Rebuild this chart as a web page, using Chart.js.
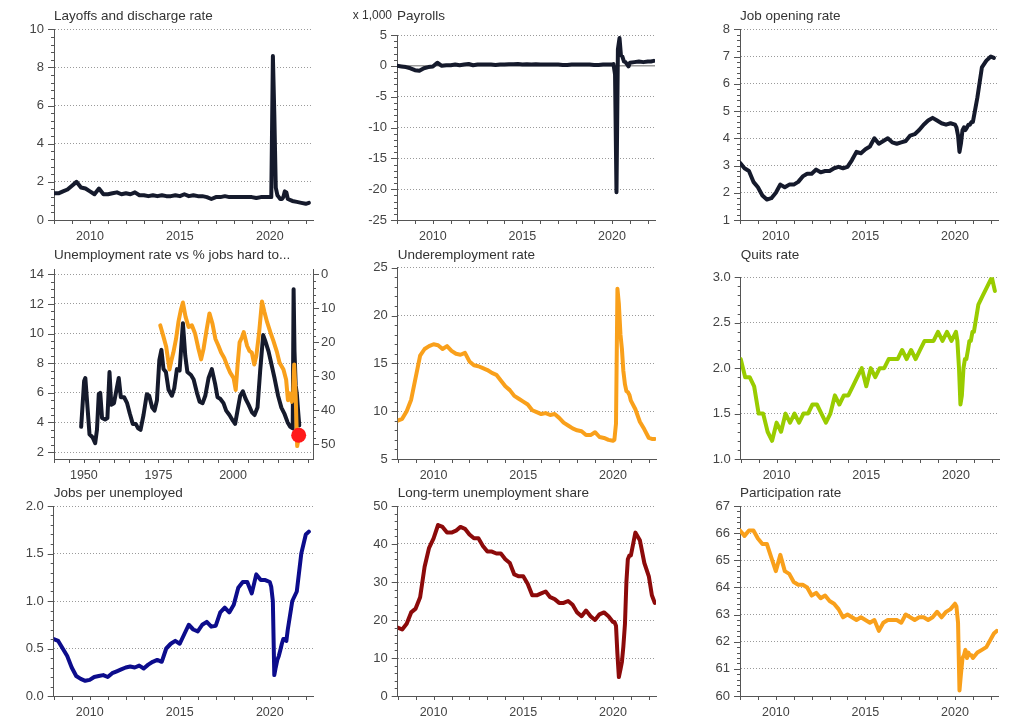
<!DOCTYPE html>
<html>
<head>
<meta charset="utf-8">
<script src="https://cdn.jsdelivr.net/npm/chart.js@4.4.1/dist/chart.umd.min.js"></script>
<style>
  html, body { margin: 0; padding: 0; background: #fff; }
  #wrap { position: relative; width: 1010px; height: 716px; overflow: hidden; }
  #wrap canvas { position: absolute; }
</style>
</head>
<body>
<div id="wrap"></div>
<script>
// ---- data ----
// quarterly to 2019, monthly through 2020, then quarterly again
const dates = [
  2008, 2008.25, 2008.5, 2008.75, 2009, 2009.25, 2009.5, 2009.75,
  2010, 2010.25, 2010.5, 2010.75, 2011, 2011.25, 2011.5, 2011.75,
  2012, 2012.25, 2012.5, 2012.75, 2013, 2013.25, 2013.5, 2013.75,
  2014, 2014.25, 2014.5, 2014.75, 2015, 2015.25, 2015.5, 2015.75,
  2016, 2016.25, 2016.5, 2016.75, 2017, 2017.25, 2017.5, 2017.75,
  2018, 2018.25, 2018.5, 2018.75, 2019, 2019.25, 2019.5, 2019.75,
  2020, 2020.08, 2020.17, 2020.25, 2020.33, 2020.42,
  2020.5, 2020.58, 2020.67, 2020.75, 2020.83, 2020.92,
  2021, 2021.25, 2021.5, 2021.75, 2022, 2022.17, 2022.33
];

const layoffs = [
  1.4, 1.4, 1.5, 1.6, 1.8, 2.0, 1.7, 1.65,
  1.5, 1.35, 1.65, 1.35, 1.35, 1.4, 1.45, 1.35,
  1.4, 1.35, 1.45, 1.3, 1.3, 1.25, 1.3, 1.25,
  1.3, 1.25, 1.25, 1.3, 1.25, 1.35, 1.25, 1.3,
  1.25, 1.25, 1.2, 1.1, 1.2, 1.2, 1.25, 1.2,
  1.2, 1.2, 1.2, 1.2, 1.2, 1.15, 1.2, 1.2,
  1.2, 1.2, 8.6, 5.5, 1.7, 1.3,
  1.2, 1.1, 1.1, 1.2, 1.5, 1.45,
  1.1, 1.0, 0.95, 0.9, 0.85, 0.9, null
];

const payrolls = [
  0.0, -0.1, -0.2, -0.4, -0.7, -0.8, -0.4, -0.2,
  -0.1, 0.5, 0.0, 0.1, 0.1, 0.2, 0.1, 0.2,
  0.3, 0.1, 0.2, 0.2, 0.2, 0.2, 0.15, 0.2,
  0.2, 0.25, 0.25, 0.3, 0.2, 0.25, 0.2, 0.25,
  0.2, 0.2, 0.2, 0.2, 0.2, 0.15, 0.15, 0.2,
  0.2, 0.2, 0.2, 0.2, 0.15, 0.15, 0.2, 0.2,
  0.2, 0.3, -1.4, -20.5, 2.7, 4.5,
  1.7, 1.5, 0.7, 0.6, 0.3, -0.1,
  0.5, 0.6, 0.7, 0.6, 0.7, 0.7, 0.8
];

const openings = [
  3.1, 2.9, 2.8, 2.4, 2.2, 1.9, 1.75, 1.8,
  2.0, 2.3, 2.2, 2.3, 2.3, 2.4, 2.6, 2.7,
  2.7, 2.85, 2.75, 2.8, 2.8, 2.9, 2.95, 2.9,
  2.95, 3.2, 3.5, 3.45, 3.6, 3.7, 4.0, 3.8,
  3.9, 4.0, 3.85, 3.8, 3.85, 3.9, 4.1, 4.15,
  4.3, 4.5, 4.65, 4.75, 4.65, 4.55, 4.5, 4.55,
  4.5, 4.4, 4.1, 3.5, 3.8, 4.3,
  4.4, 4.3, 4.4, 4.5, 4.5, 4.6,
  4.6, 5.5, 6.6, 6.85, 7.0, 6.95, null
];

const underemployment = [
  9.0, 9.2, 10.0, 11.2, 13.5, 15.8, 16.5, 16.8,
  17.0, 16.9, 16.5, 16.8, 16.3, 16.0, 15.9, 16.1,
  15.2, 14.8, 14.7, 14.5, 14.3, 14.0, 13.8, 13.2,
  12.6, 12.2, 11.6, 11.3, 11.0, 10.7, 10.1, 9.9,
  9.7, 9.8, 9.6, 9.7, 9.3, 8.8, 8.5, 8.2,
  8.0, 7.9, 7.5, 7.5, 7.8, 7.3, 7.2, 7.0,
  6.9, 7.0, 8.7, 22.8, 21.2, 18.0,
  16.5, 14.2, 12.8, 12.1, 12.0, 11.7,
  11.1, 10.2, 8.9, 8.1, 7.2, 7.1, 7.1
];

const quits = [
  2.1, 1.9, 1.9, 1.8, 1.5, 1.5, 1.3, 1.2,
  1.4, 1.3, 1.5, 1.4, 1.5, 1.4, 1.5, 1.5,
  1.6, 1.6, 1.5, 1.4, 1.5, 1.7, 1.6, 1.7,
  1.7, 1.8, 1.9, 2.0, 1.8, 2.0, 1.9, 2.0,
  2.0, 2.1, 2.1, 2.1, 2.2, 2.1, 2.2, 2.1,
  2.2, 2.3, 2.3, 2.3, 2.4, 2.3, 2.4, 2.3,
  2.4, 2.3, 2.0, 1.6, 1.7, 2.0,
  2.1, 2.1, 2.2, 2.3, 2.3, 2.4,
  2.4, 2.7, 2.8, 2.9, 3.0, 2.85, null
];

const jobsPerUnemployed = [
  0.6, 0.58, 0.5, 0.42, 0.3, 0.21, 0.18, 0.16,
  0.17, 0.2, 0.21, 0.22, 0.2, 0.24, 0.26, 0.28,
  0.3, 0.31, 0.3, 0.32, 0.29, 0.33, 0.36, 0.38,
  0.36, 0.5, 0.55, 0.58, 0.55, 0.65, 0.75, 0.7,
  0.68, 0.75, 0.78, 0.73, 0.74, 0.88, 0.93, 0.88,
  0.96, 1.14, 1.2, 1.2, 1.08, 1.28, 1.22, 1.22,
  1.2, 1.15, 1.0, 0.22, 0.3, 0.38,
  0.42, 0.48, 0.55, 0.6, 0.6, 0.58,
  0.7, 1.0, 1.1, 1.5, 1.7, 1.73, null
];

const longTermShare = [
  18, 17.5, 19, 22, 23, 26, 34, 39,
  41.5, 45, 44.5, 43, 43, 43.5, 44.5, 44,
  42.5, 41.5, 41.5, 39.5, 38, 38, 37.5, 37.5,
  36, 35, 32, 31.5, 31.5, 29.5, 26.5, 26.5,
  27, 27.5, 26, 25.5, 24.5, 24.5, 25, 24,
  22, 21, 22.5, 21, 20, 21.5, 22, 21,
  19.5, 19.5, 18.5, 11, 5, 7,
  9, 13, 19, 30, 36, 37,
  37, 43, 41, 35, 31.5, 26.5, 24.5
];

const participation = [
  66.1, 65.9, 66.1, 66.1, 65.8, 65.6, 65.6, 65.1,
  64.6, 65.2, 64.6, 64.5, 64.2, 64.1, 64.1, 64.0,
  63.7, 63.8, 63.6, 63.7, 63.5, 63.4, 63.2, 62.9,
  63.0, 62.9, 62.8, 62.9, 62.8, 62.7, 62.8, 62.4,
  62.7, 62.8, 62.8, 62.8, 62.7, 63.0, 62.9, 62.8,
  62.9, 62.9, 62.8, 62.9, 63.1, 62.9, 63.1, 63.2,
  63.4, 63.3, 62.7, 60.2, 60.8, 61.4,
  61.5, 61.7, 61.4, 61.6, 61.5, 61.5,
  61.4, 61.6, 61.7, 61.8, 62.1, 62.3, 62.4
];

// unemployment rate (left axis) since 1949
const urYears = [
  1949.1, 1950.1, 1950.5, 1951.9, 1952.9, 1953.8, 1954.4, 1955.0, 1955.5, 1956.1,
  1957.1, 1957.9, 1958.6, 1959.2, 1960.1, 1961.7, 1962.4, 1963.5, 1964.5, 1965.4,
  1966.4, 1967.4, 1968.2, 1969.0, 1970.0, 1971.1, 1971.9, 1972.9, 1973.7, 1974.5,
  1975.3, 1976.0, 1976.7, 1977.5, 1978.4, 1979.5, 1980.3, 1981.2, 1982.1, 1983.2,
  1984.0, 1984.7, 1985.9, 1986.8, 1987.9, 1988.8, 1989.8, 1990.7, 1991.8, 1992.9,
  1994.0, 1994.8, 1995.7, 1996.8, 1997.7, 1998.8, 2000.0, 2000.7, 2001.5, 2002.4,
  2003.3, 2004.2, 2005.2, 2006.3, 2007.2, 2008.2, 2009.1, 2010.1, 2010.8, 2011.9,
  2012.8, 2013.9, 2015.1, 2016.2, 2017.2, 2018.3, 2019.2, 2020.0, 2020.3, 2020.6,
  2021.0, 2021.4, 2021.8, 2022.2
];
const urRate = [
  3.7, 6.8, 7.0, 3.2, 3.0, 2.6, 3.5, 5.9, 6.0, 4.3,
  4.2, 4.3, 7.4, 5.2, 5.3, 7.0, 5.7, 5.7, 5.3, 4.6,
  3.9, 3.9, 3.6, 3.5, 4.5, 5.9, 5.8, 5.0, 4.8, 5.5,
  8.2, 8.9, 7.6, 7.4, 6.2, 5.8, 6.3, 7.6, 7.5, 10.7,
  8.5, 7.4, 7.2, 6.9, 6.0, 5.4, 5.3, 5.8, 7.0, 7.6,
  6.6, 5.7, 5.6, 5.3, 4.8, 4.5, 4.1, 3.9, 4.8, 5.8,
  6.1, 5.6, 5.2, 4.7, 4.5, 5.0, 7.5, 9.9, 9.5, 8.8,
  8.0, 7.0, 5.8, 5.0, 4.6, 4.0, 3.7, 3.6, 13.0, 8.8,
  6.5, 5.9, 4.8, 3.8
];

// % of firms with jobs hard to fill (right axis, inverted)
const hardYears = [
  1975.6, 1976.7, 1977.6, 1978.7, 1979.3, 1980.0, 1980.9, 1981.7, 1982.5, 1983.2,
  1984.1, 1985.1, 1986.2, 1987.3, 1988.3, 1989.3, 1990.1, 1991.2, 1992.1, 1993.1,
  1994.1, 1995.1, 1996.0, 1997.0, 1998.1, 1999.1, 2000.2, 2000.9, 2001.5, 2002.2,
  2003.0, 2003.6, 2004.7, 2005.5, 2006.3, 2007.1, 2007.8, 2008.7, 2009.7, 2010.5,
  2011.4, 2012.5, 2013.5, 2014.7, 2015.6, 2016.9, 2017.8, 2018.4, 2019.0, 2019.7,
  2020.1, 2020.5, 2021.0, 2021.5, 2022.0
];
const hardShare = [
  15.0, 18.4, 21.3, 28.0, 25.5, 23.0, 19.0, 14.0, 10.5, 8.3,
  12.5, 15.5, 15.0, 17.5, 21.5, 25.0, 22.0, 16.0, 11.5, 14.5,
  19.0, 21.0, 23.0, 24.5, 27.0, 29.0, 30.5, 34.0, 27.0, 20.0,
  18.5, 17.0, 21.0, 22.5, 23.0, 26.5, 24.0, 17.5, 8.0, 11.0,
  14.0, 17.0, 19.5, 22.8, 26.0, 28.0, 31.0, 37.0, 35.0, 37.5,
  36.0, 26.5, 36.0, 50.5, 48.0
];
const hardLatestYear = [2022.0];
const hardLatestShare = [47.3];

// tick labels
const recentYearTicks = [2010, 2015, 2020];
const historyYearTicks = [1950, 1975, 2000];
const layoffTicks = [0, 2, 4, 6, 8, 10];
const payrollTicks = [-25, -20, -15, -10, -5, 0, 5];
const openingTicks = [1, 2, 3, 4, 5, 6, 7, 8];
const urTicks = [2, 4, 6, 8, 10, 12, 14];
const hardTicks = [0, 10, 20, 30, 40, 50];
const underTicks = [5, 10, 15, 20, 25];
const quitsTicks = [1.0, 1.5, 2.0, 2.5, 3.0];
const jpuTicks = [0.0, 0.5, 1.0, 1.5, 2.0];
const ltuTicks = [0, 10, 20, 30, 40, 50];
const lfprTicks = [60, 61, 62, 63, 64, 65, 66, 67];

// ---- styling ----
const FONT = '"Liberation Sans", Arial, sans-serif';
const AXIS = '#555';
const DARK = '#151a2c';
const ORANGE = '#f9a01b';
const GREEN = '#99cc00';
const NAVY = '#0c0c8c';
const MAROON = '#8c0a0a';

Chart.defaults.font.family = FONT;
Chart.defaults.color = '#444';

function line(xs, ys, color, axis) {
  return {
    data: xs.map((x, i) => ({x: x, y: ys[i]})),
    borderColor: color,
    yAxisID: axis || 'y',
    borderWidth: 4,
    pointRadius: 0,
    tension: 0,
    borderJoinStyle: 'round',
    borderCapStyle: 'round',
    spanGaps: false
  };
}

// title, minor tick marks, zero line
const decor = {
  id: 'decor',
  beforeDatasetsDraw(chart, args, o) {
    if (o.zeroLine === undefined) return;
    const {ctx, chartArea: a, scales} = chart;
    const y = scales.y.getPixelForValue(o.zeroLine);
    ctx.save();
    ctx.strokeStyle = '#9a9a9a';
    ctx.lineWidth = 1.5;
    ctx.beginPath();
    ctx.moveTo(a.left, y);
    ctx.lineTo(a.right, y);
    ctx.stroke();
    ctx.restore();
  },
  afterDraw(chart, args, o) {
    const {ctx, chartArea: a, scales} = chart;
    ctx.save();
    ctx.fillStyle = '#333';
    ctx.textBaseline = 'middle';
    ctx.font = '13.5px ' + FONT;
    ctx.fillText(o.title, a.left, o.titleY);
    if (o.unit) {
      ctx.font = '12px ' + FONT;
      ctx.textAlign = 'right';
      ctx.fillText(o.unit, a.left - 5, o.titleY);
    }

    ctx.strokeStyle = AXIS;
    ctx.lineWidth = 1;
    ctx.beginPath();
    o.marks.forEach(m => {
      const s = scales[m.axis];
      const right = s.position === 'right';
      const x0 = right ? a.right : a.left;
      const n = Math.round((m.to - m.from) / m.minor);
      const every = Math.round(m.major / m.minor);
      for (let i = 0; i <= n; i++) {
        const y = Math.round(s.getPixelForValue(m.from + i * m.minor)) + 0.5;
        const len = i % every === 0 ? 6 : 3;
        ctx.moveTo(x0, y);
        ctx.lineTo(right ? x0 + len : x0 - len, y);
      }
    });
    const xs = scales.x;
    for (let v = o.xFrom; v <= xs.max + 1e-9; v += o.xStep) {
      const x = Math.round(xs.getPixelForValue(v)) + 0.5;
      ctx.moveTo(x, a.bottom);
      ctx.lineTo(x, a.bottom + 4);
    }
    ctx.stroke();
    ctx.restore();
  }
};

function yScale(cfg, width, position) {
  const right = position === 'right';
  return {
    type: 'linear',
    position: right ? 'right' : 'left',
    min: cfg.min,
    max: cfg.max,
    reverse: !!cfg.reverse,
    afterBuildTicks: s => { s.ticks = cfg.ticks.map(v => ({value: v})); },
    afterFit: s => { s.width = width; },
    ticks: {
      padding: right ? 8 : 10,
      font: {size: 13},
      color: '#444',
      callback: v => cfg.decimals ? v.toFixed(cfg.decimals) : String(v)
    },
    grid: {display: !right, color: '#9a9a9a', lineWidth: 1, drawTicks: false},
    border: {display: true, color: AXIS, width: 1, dash: [1, 2]}
  };
}

function xScale(cfg, height) {
  return {
    type: 'linear',
    min: cfg.min,
    max: cfg.max,
    afterBuildTicks: s => { s.ticks = cfg.ticks.map(v => ({value: v})); },
    afterFit: s => { s.height = height; },
    ticks: {padding: 9, font: {size: 12.5}, color: '#444', maxRotation: 0, autoSkip: false,
            callback: v => String(v)},
    grid: {display: false, drawTicks: false},
    border: {display: true, color: AXIS, width: 1}
  };
}

const recentX = {min: 2008, max: 2022.4, ticks: recentYearTicks, from: 2008, step: 1};
const historyX = {min: 1940, max: 2026.8, ticks: historyYearTicks, from: 1940, step: 5};

// box = canvas [left, top, w, h]; area = plot [left, top, right, bottom] on the page
const panels = [
  {box: [0, 0, 340, 245], area: [54, 29.3, 313, 220], titleY: 16, title: 'Layoffs and discharge rate',
   x: recentX, y: {min: 0, max: 10, ticks: layoffTicks, major: 2, minor: 0.4},
   sets: [line(dates, layoffs, DARK)]},
  {box: [340, 0, 343, 245], area: [397, 35, 655, 220], titleY: 16, title: 'Payrolls', unit: 'x 1,000', zero: 0,
   x: recentX, y: {min: -25, max: 5, ticks: payrollTicks, major: 5, minor: 1},
   sets: [line(dates, payrolls, DARK)]},
  {box: [683, 0, 327, 245], area: [740, 29.3, 998, 220], titleY: 16, title: 'Job opening rate',
   x: recentX, y: {min: 1, max: 8, ticks: openingTicks, major: 1, minor: 0.2},
   sets: [line(dates, openings, DARK)]},

  {box: [0, 245, 340, 239], area: [54, 269, 313, 459], titleY: 255, title: 'Unemployment rate vs % jobs hard to...',
   x: historyX, y: {min: 1.53, max: 14.36, ticks: urTicks, major: 2, minor: 0.5},
   y2: {min: -1.56, max: 54.3, reverse: true, ticks: hardTicks, major: 10, minor: 2},
   sets: [
     {data: hardLatestYear.map((x, i) => ({x: x, y: hardLatestShare[i]})), yAxisID: 'y2', showLine: false,
      pointRadius: 7.5, pointBackgroundColor: '#ff1a1a', pointBorderWidth: 0},
     line(hardYears, hardShare, ORANGE, 'y2'),
     line(urYears, urRate, DARK)
   ]},
  {box: [340, 245, 343, 239], area: [397.7, 267.7, 656, 459], titleY: 255, title: 'Underemployment rate',
   x: recentX, y: {min: 5, max: 25, ticks: underTicks, major: 5, minor: 1},
   sets: [line(dates, underemployment, ORANGE)]},
  {box: [683, 245, 327, 239], area: [740.7, 277.3, 999, 459], titleY: 255, title: 'Quits rate',
   x: recentX, y: {min: 1, max: 3, ticks: quitsTicks, major: 0.5, minor: 0.1, decimals: 1},
   sets: [line(dates, quits, GREEN)]},

  {box: [0, 484, 340, 232], area: [53.7, 506, 313, 696], titleY: 493, title: 'Jobs per unemployed',
   x: recentX, y: {min: 0, max: 2, ticks: jpuTicks, major: 0.5, minor: 0.1, decimals: 1},
   sets: [line(dates, jobsPerUnemployed, NAVY)]},
  {box: [340, 484, 343, 232], area: [397.7, 506, 656, 696], titleY: 493, title: 'Long-term unemployment share',
   x: recentX, y: {min: 0, max: 50, ticks: ltuTicks, major: 10, minor: 2},
   sets: [line(dates, longTermShare, MAROON)]},
  {box: [683, 484, 327, 232], area: [740, 506, 998, 696], titleY: 493, title: 'Participation rate',
   x: recentX, y: {min: 60, max: 67, ticks: lfprTicks, major: 1, minor: 0.2},
   sets: [line(dates, participation, ORANGE)]}
];

const wrap = document.getElementById('wrap');

panels.forEach(p => {
  const [bl, bt, bw, bh] = p.box;
  const [L, T, R, B] = p.area;
  const cv = document.createElement('canvas');
  cv.width = bw;
  cv.height = bh;
  cv.style.left = bl + 'px';
  cv.style.top = bt + 'px';
  wrap.appendChild(cv);

  const padRight = bl + bw - R;
  const scales = {
    x: xScale(p.x, bt + bh - B),
    y: yScale(p.y, L - bl)
  };
  const marks = [{axis: 'y', from: p.y.ticks[0], to: p.y.ticks[p.y.ticks.length - 1], major: p.y.major, minor: p.y.minor}];
  if (p.y2) {
    scales.y2 = yScale(p.y2, padRight, 'right');
    marks.push({axis: 'y2', from: p.y2.ticks[0], to: p.y2.ticks[p.y2.ticks.length - 1], major: p.y2.major, minor: p.y2.minor});
  }

  new Chart(cv, {
    type: 'line',
    data: {datasets: p.sets},
    options: {
      responsive: false,
      animation: false,
      devicePixelRatio: 1,
      layout: {padding: {left: 0, top: T - bt, right: p.y2 ? 0 : padRight, bottom: 0}},
      plugins: {
        legend: {display: false},
        tooltip: {enabled: false},
        decor: {
          title: p.title, unit: p.unit, titleY: p.titleY - bt, zeroLine: p.zero,
          marks: marks, xFrom: p.x.from, xStep: p.x.step
        }
      },
      scales: scales
    },
    plugins: [decor]
  });
});
</script>
</body>
</html>
